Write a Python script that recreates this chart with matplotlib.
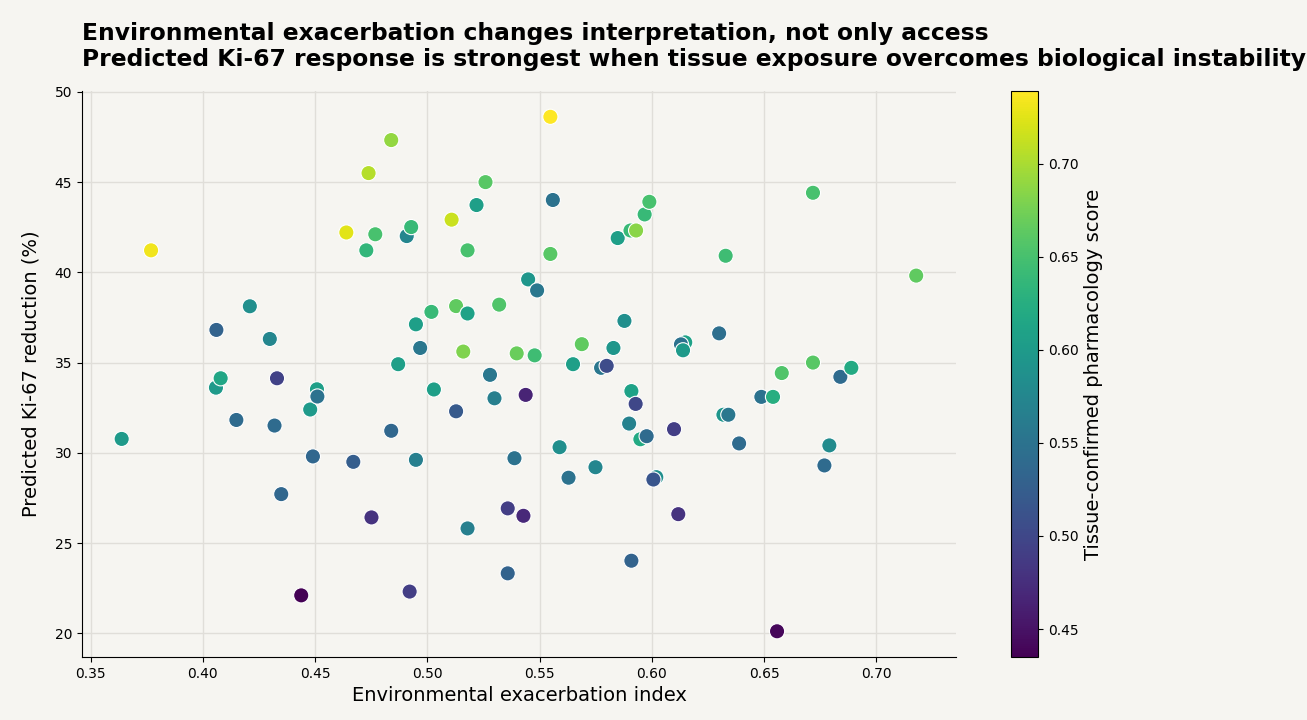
"""Environmental exacerbation vs predicted Ki-67 reduction scatter"""
import numpy as np
import matplotlib
matplotlib.use("Agg")
import matplotlib.pyplot as plt

# environmental exacerbation index (x)
env_index = [
    0.3638, 0.3769, 0.4060, 0.4058, 0.4079, 0.4149, 0.4209, 0.4298, 0.4319, 0.4330,
    0.4349, 0.4438, 0.4478, 0.4490, 0.4508, 0.4510, 0.4670, 0.4639, 0.4738, 0.4728,
    0.4768, 0.4751, 0.4839, 0.4839, 0.4870, 0.4908, 0.4928, 0.4921, 0.4949, 0.4949,
    0.4968, 0.5018, 0.5029, 0.5108, 0.5128, 0.5128, 0.5160, 0.5179, 0.5179, 0.5179,
    0.5219, 0.5259, 0.5279, 0.5299, 0.5320, 0.5358, 0.5358, 0.5388, 0.5398, 0.5428,
    0.5438, 0.5449, 0.5478, 0.5489, 0.5548, 0.5548, 0.5559, 0.5589, 0.5629, 0.5649,
    0.5688, 0.5749, 0.5774, 0.5799, 0.5829, 0.5848, 0.5878, 0.5899, 0.5909, 0.5909,
    0.5905, 0.5930, 0.5928, 0.5949, 0.5968, 0.5977, 0.5989, 0.6020, 0.6007, 0.6099,
    0.6118, 0.6149, 0.6130, 0.6139, 0.6300, 0.6319, 0.6341, 0.6329, 0.6389, 0.6488,
    0.6540, 0.6558, 0.6579, 0.6718, 0.6718, 0.6769, 0.6791, 0.6840, 0.6889, 0.7178,
]

# predicted Ki-67 reduction in % (y)
ki67_reduction = [
    30.77, 41.22, 36.81, 33.61, 34.13, 31.82, 38.12, 36.31, 31.51, 34.13,
    27.71, 22.10, 32.40, 29.80, 33.52, 33.12, 29.50, 42.21, 45.50, 41.22,
    42.11, 26.42, 47.33, 31.22, 34.91, 42.01, 42.51, 22.31, 37.12, 29.61,
    35.81, 37.81, 33.51, 42.92, 38.13, 32.30, 35.61, 41.22, 37.72, 25.81,
    43.73, 45.00, 34.32, 33.02, 38.21, 26.92, 23.32, 29.70, 35.51, 26.51,
    33.21, 39.61, 35.40, 39.00, 41.02, 48.62, 44.01, 30.31, 28.62, 34.91,
    36.02, 29.20, 34.71, 34.82, 35.81, 41.90, 37.31, 31.62, 33.42, 24.02,
    42.32, 42.32, 32.71, 30.75, 43.21, 30.92, 43.91, 28.65, 28.52, 31.31,
    26.60, 36.12, 36.01, 35.68, 36.62, 32.11, 32.11, 40.92, 30.52, 33.10,
    33.10, 20.11, 34.42, 44.41, 35.00, 29.30, 30.41, 34.21, 34.71, 39.82,
]

# tissue-confirmed pharmacology score (colour)
pharm_score = [
    0.600, 0.733, 0.530, 0.600, 0.615, 0.540, 0.585, 0.575, 0.540, 0.495,
    0.535, 0.435, 0.600, 0.535, 0.605, 0.550, 0.525, 0.725, 0.705, 0.635,
    0.650, 0.480, 0.690, 0.535, 0.605, 0.575, 0.640, 0.490, 0.605, 0.565,
    0.555, 0.640, 0.605, 0.715, 0.665, 0.520, 0.680, 0.650, 0.610, 0.565,
    0.605, 0.660, 0.555, 0.565, 0.655, 0.490, 0.530, 0.550, 0.670, 0.470,
    0.465, 0.595, 0.645, 0.555, 0.660, 0.739, 0.550, 0.585, 0.550, 0.605,
    0.665, 0.575, 0.555, 0.505, 0.595, 0.605, 0.585, 0.570, 0.610, 0.530,
    0.640, 0.685, 0.500, 0.620, 0.640, 0.540, 0.650, 0.585, 0.515, 0.490,
    0.480, 0.610, 0.550, 0.600, 0.545, 0.595, 0.555, 0.645, 0.540, 0.550,
    0.625, 0.440, 0.655, 0.650, 0.660, 0.540, 0.580, 0.540, 0.620, 0.665,
]

BG = "#f6f5f1"

fig = plt.figure(figsize=(13.07, 7.2), dpi=100, facecolor=BG)
ax = fig.add_axes([0.0627, 0.0875, 0.6687, 0.786], facecolor=BG)
cax = fig.add_axes([0.7735, 0.0875, 0.0207, 0.786])

sc = ax.scatter(env_index, ki67_reduction, c=pharm_score, cmap="viridis",
                s=120, edgecolors="white", linewidths=0.8, zorder=3)

ax.grid(True, color="#e0ded9", linewidth=1.0, zorder=0)
ax.spines["top"].set_visible(False)
ax.spines["right"].set_visible(False)
ax.set_xticks(np.arange(0.35, 0.701, 0.05))
ax.set_yticks(np.arange(20, 51, 5))
ax.tick_params(labelsize=10)

ax.set_xlabel("Environmental exacerbation index", fontsize=14)
ax.set_ylabel("Predicted Ki-67 reduction (%)", fontsize=14, labelpad=10)
ax.set_title("Environmental exacerbation changes interpretation, not only access\n"
             "Predicted Ki-67 response is strongest when tissue exposure overcomes biological instability",
             loc="left", fontsize=16.8, fontweight="bold", pad=18, linespacing=1.15)

cb = fig.colorbar(sc, cax=cax)
cb.set_label("Tissue-confirmed pharmacology score", fontsize=14)
cb.ax.tick_params(labelsize=10)

plt.savefig("out.png", dpi=100, facecolor=BG)
